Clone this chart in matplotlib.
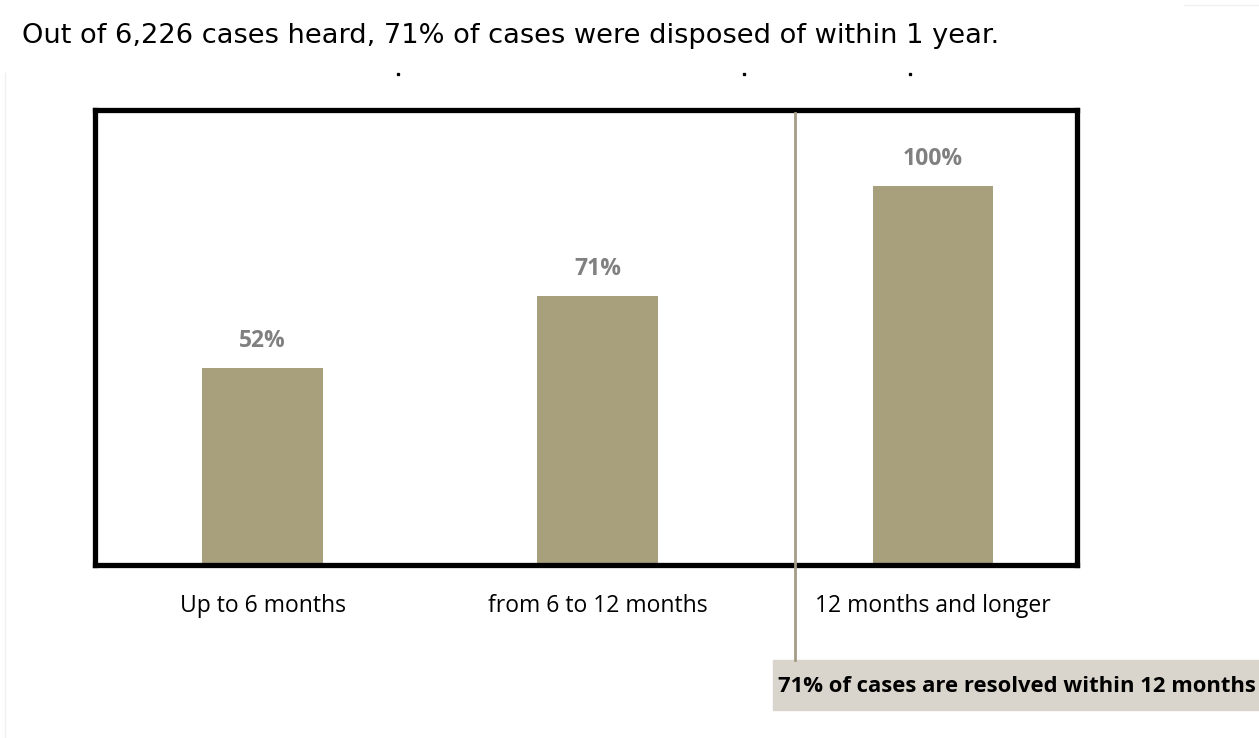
import matplotlib.pyplot as plt
from matplotlib.lines import Line2D

categories = ['Up to 6 months', 'from 6 to 12 months', '12 months and longer']
shares = [52, 71, 100]
value_labels = ['52%', '71%', '100%']

title_text = 'Out of 6,226 cases heard, 71% of cases were disposed of within 1 year.'
note_text = '71% of cases are resolved within 12 months'

W, H = 1259, 738
fig = plt.figure(figsize=(W / 100, H / 100), dpi=100)

# axes box in pixel terms of the reference
left, right, top, bottom = 95, 1077, 110, 565
ax = fig.add_axes([left / W, 1 - bottom / H, (right - left) / W, (bottom - top) / H])

bar_color = '#a89f7c'
ax.bar(range(len(categories)), shares, width=0.36, color=bar_color, zorder=2)
ax.set_xlim(-0.5, 2.43)
ax.set_ylim(0, 120)

for i, (v, lab) in enumerate(zip(shares, value_labels)):
    ax.annotate(lab, (i, v), xytext=(0, 19), textcoords='offset points',
                ha='center', va='center', color='#808080', fontweight='bold',
                fontsize=16.5, family='Open Sans')

ax.set_xticks(range(len(categories)))
ax.set_xticklabels(categories, family='Open Sans', fontsize=16.5)
ax.tick_params(axis='x', length=0, pad=21)
ax.set_yticks([])
for s in ax.spines.values():
    s.set_linewidth(3.8)
    s.set_color('black')

# headline
fig.text(22 / W, 1 - 36 / H, title_text, fontsize=19.6, family='DejaVu Sans',
         va='center', ha='left', color='black')

# leftovers of a clipped chart title
for px in (398, 744, 910):
    fig.add_artist(Line2D([px / W], [1 - 74 / H], marker='s', markersize=1.4,
                          color='black', lw=0))

# faint page borders
fig.add_artist(Line2D([5 / W, 5 / W], [1 - 73 / H, 0], color='#f0f0f0', lw=1))
fig.add_artist(Line2D([1184 / W, 1 - 0.5 / W], [1 - 5 / H, 1 - 5 / H], color='#f0f0f0', lw=1))

# callout line and note box
fig.add_artist(Line2D([795 / W, 795 / W], [1 - 113 / H, 1 - 660 / H],
                      color='#a49c85', lw=2, zorder=1))
fig.patches.append(plt.Rectangle((773 / W, 1 - 710 / H), (W - 773) / W, 50 / H,
                                 transform=fig.transFigure, color='#d9d5cc',
                                 zorder=0, figure=fig))
fig.text(778 / W, 1 - 686 / H, note_text, fontsize=15.8, fontweight='bold',
         family='Open Sans', va='center', ha='left', color='black')

fig.savefig('out.png', dpi=100)
